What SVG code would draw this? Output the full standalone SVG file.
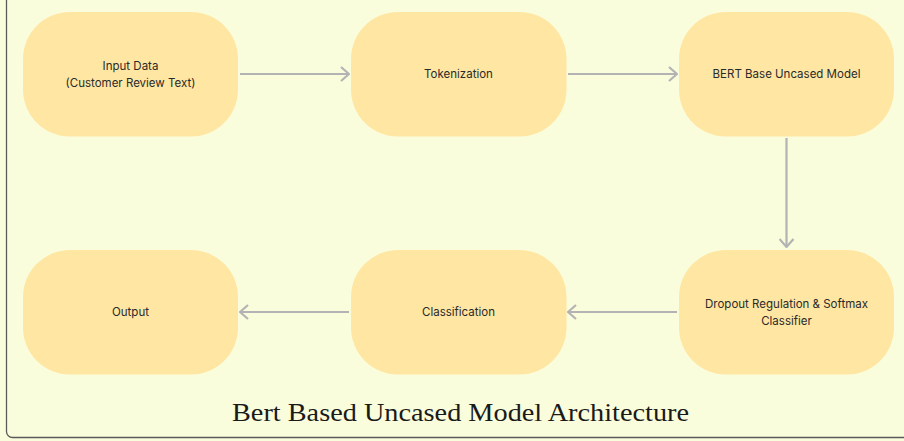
<svg xmlns="http://www.w3.org/2000/svg" width="904" height="441" viewBox="0 0 904 441">
<style>
.node{fill:#FFE6A3}
.lbl{font-family:Inter,"Noto Sans","Liberation Sans",sans-serif;font-size:11.5px;fill:#2a2a2a;text-anchor:middle;dominant-baseline:central}
.edge{stroke:#b3b3b3;stroke-width:2.2;fill:none;marker-end:url(#ah)}
.title{font-family:"Liberation Serif","DejaVu Serif",serif;font-size:25px;fill:#1a1a1a;text-anchor:middle}
</style>
<defs>
<marker id="ah" viewBox="0 0 10 16" refX="9" refY="8" markerWidth="10" markerHeight="16" markerUnits="userSpaceOnUse" orient="auto">
<path d="M1,1 L9,8 L1,15" fill="none" stroke="#b3b3b3" stroke-width="2.2"/>
</marker>
</defs>
<rect x="0" y="0" width="904" height="441" fill="#FAFDDC"/>
<rect x="6.5" y="-20" width="920" height="457.5" rx="6" fill="#FAFDDC" stroke="#5a5a5a" stroke-width="1.3"/>
<g id="connectors">
<line class="edge" x1="240" y1="74" x2="349" y2="74"/>
<line class="edge" x1="568" y1="74" x2="677" y2="74"/>
<line class="edge" x1="786.5" y1="138" x2="786.5" y2="247"/>
<line class="edge" x1="677" y1="312" x2="568" y2="312"/>
<line class="edge" x1="349" y1="312" x2="240" y2="312"/>
</g>
<g id="input">
<rect class="node" x="23" y="12" width="215" height="124.5" rx="47"/>
<text class="lbl" x="130.5" y="66">Input Data</text>
<text class="lbl" x="130.5" y="83">(Customer Review Text)</text>
</g>
<g id="tokenization">
<rect class="node" x="351" y="12" width="215.5" height="124.5" rx="47"/>
<text class="lbl" x="458.5" y="74">Tokenization</text>
</g>
<g id="bert">
<rect class="node" x="679" y="12" width="215" height="124.5" rx="47"/>
<text class="lbl" x="786.5" y="74">BERT Base Uncased Model</text>
</g>
<g id="dropout">
<rect class="node" x="679" y="250" width="215" height="124.5" rx="47"/>
<text class="lbl" x="786.5" y="304">Dropout Regulation &amp; Softmax</text>
<text class="lbl" x="786.5" y="321">Classifier</text>
</g>
<g id="classification">
<rect class="node" x="351" y="250" width="215.5" height="124.5" rx="47"/>
<text class="lbl" x="458.5" y="312">Classification</text>
</g>
<g id="output">
<rect class="node" x="23" y="250" width="215" height="124.5" rx="47"/>
<text class="lbl" x="130.5" y="312">Output</text>
</g>
<text class="title" x="460.5" y="421" textLength="457" lengthAdjust="spacingAndGlyphs">Bert Based Uncased Model Architecture</text>
</svg>
